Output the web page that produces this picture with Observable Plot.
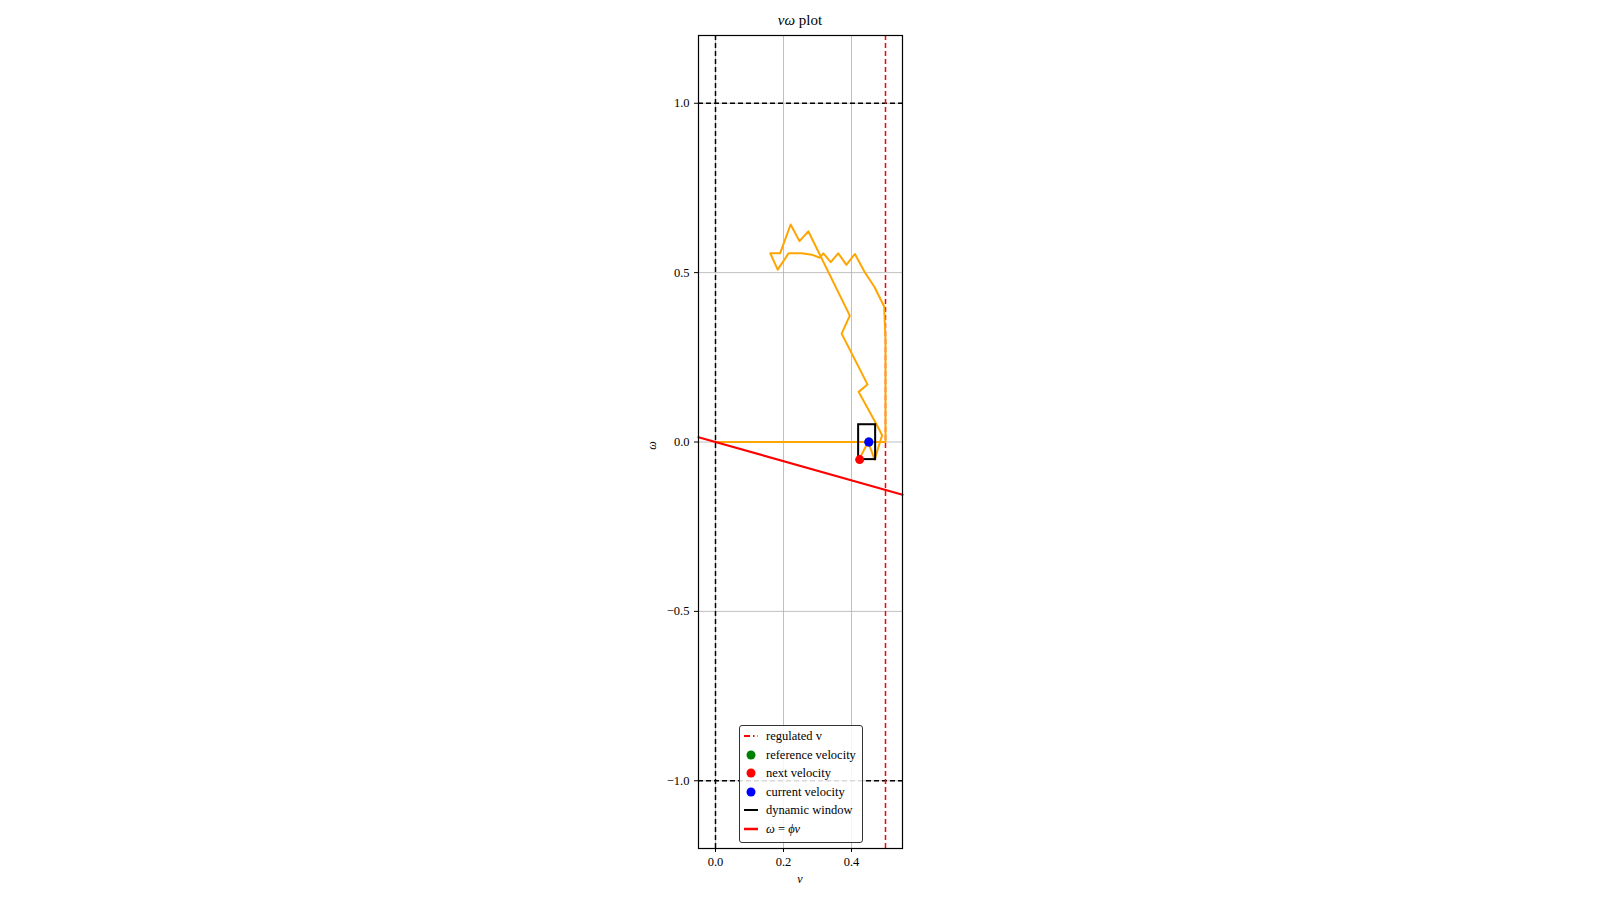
<!DOCTYPE html>
<html><head><meta charset="utf-8">
<script src="https://cdn.jsdelivr.net/npm/d3@7"></script>
<script src="https://cdn.jsdelivr.net/npm/@observablehq/plot@0.6"></script>
<style>
body{margin:0;background:#fff;font-family:"Liberation Serif",serif;}
#wrap{position:relative;width:1600px;height:900px;}
.t{position:absolute;font-family:"Liberation Serif",serif;color:#000;}
#legend{position:absolute;left:739px;top:725px;width:122px;height:116px;border:1px solid #333;border-radius:3px;background:rgba(255,255,255,0.85);font-size:12.5px;}
.row{position:absolute;left:0;height:16px;line-height:16px;}
.sym{position:absolute;left:4px;width:14px;height:16px;}
.lab{position:absolute;left:26px;white-space:nowrap;}
</style></head><body>
<div id="wrap"></div>
<script>
const trajV = [0,0.5,0.5,0.496,0.468,0.439,0.410,0.385,0.361,0.339,0.317,0.307,0.283,0.254,0.215,0.183,0.161,0.190,0.221,0.247,0.273,0.395,0.371,0.447,0.421,0.473,0.49,0.468,0.449,0.422];
const trajW = [0,0,0.30,0.40,0.457,0.501,0.555,0.523,0.557,0.531,0.557,0.544,0.553,0.557,0.557,0.509,0.557,0.557,0.642,0.593,0.622,0.373,0.320,0.170,0.148,0.053,0.02,-0.052,0,-0.052];
const windowBox = {v1:0.421, v2:0.471, w1:-0.052, w2:0.051};
const currentVel = [0.451, 0.0];
const nextVel = [0.424, -0.052];
const refVel = [0.451, 0.0];
const phi = -0.283;
const vMax = 0.5;
const xTicks = [0.0,0.2,0.4];
const yTicks = [-1.0,-0.5,0.0,0.5,1.0];

const traj = trajV.map((v,i)=>({v,w:trajW[i]}));
const fmt = d => d.toFixed(1).replace("-","\u2212");
const chart = Plot.plot({
  width:1600, height:900,
  marginLeft:698, marginRight:698, marginTop:35, marginBottom:52,
  style:{fontFamily:"Liberation Serif, serif", fontSize:"12.5px", background:"transparent"},
  x:{domain:[-0.05,0.55], ticks:xTicks, tickFormat:fmt, label:null, tickSize:4},
  y:{domain:[-1.2,1.2], ticks:yTicks, tickFormat:fmt, label:null, tickSize:4},
  marks:[
    Plot.gridX(xTicks,{stroke:"#b0b0b0",strokeOpacity:1,strokeWidth:0.8}),
    Plot.gridY(yTicks,{stroke:"#b0b0b0",strokeOpacity:1,strokeWidth:0.8}),
    Plot.ruleX([0],{stroke:"#000",strokeWidth:1.5,strokeDasharray:"5,3"}),
    Plot.ruleY([1,-1],{stroke:"#000",strokeWidth:1.5,strokeDasharray:"5,3"}),
    Plot.ruleX([vMax],{stroke:"red",strokeWidth:1.5,strokeDasharray:"5,3"}),
    Plot.line(traj,{x:"v",y:"w",stroke:"orange",strokeWidth:2}),
    Plot.rect([windowBox],{x1:"v1",x2:"v2",y1:"w1",y2:"w2",fill:"none",stroke:"#000",strokeWidth:2}),
    Plot.line([-0.05,0.55].map(v=>({v,w:phi*v})),{x:"v",y:"w",stroke:"red",strokeWidth:2.2}),
    Plot.dot([refVel],{x:d=>d[0],y:d=>d[1],r:4.5,fill:"green"}),
    Plot.dot([nextVel],{x:d=>d[0],y:d=>d[1],r:4.5,fill:"red"}),
    Plot.dot([currentVel],{x:d=>d[0],y:d=>d[1],r:4.5,fill:"blue"}),
    Plot.frame({stroke:"#000",strokeWidth:1.2}),
    Plot.axisX({ticks:xTicks,tickFormat:fmt,tickSize:4,label:null}),
    Plot.axisY({ticks:yTicks,tickFormat:fmt,tickSize:4,label:null})
  ]
});
const wrap = document.getElementById("wrap");
chart.style.position="absolute"; chart.style.left="0"; chart.style.top="0";
wrap.appendChild(chart);
function txt(html,left,top,size,extra){const d=document.createElement("div");d.className="t";d.innerHTML=html;d.style.left=left+"px";d.style.top=top+"px";d.style.fontSize=size+"px";if(extra)Object.assign(d.style,extra);wrap.appendChild(d);return d;}
txt("<i>vω</i> plot",800,12,15,{transform:"translateX(-50%)"});
txt("<i>v</i>",800,872,12,{transform:"translateX(-50%)"});
txt("<i>ω</i>",648,438,12,{transform:"rotate(-90deg)"});
const lg=document.createElement("div");lg.id="legend";wrap.appendChild(lg);
const items=[
 ["line","red","regulated v",true],["dot","green","reference velocity"],["dot","red","next velocity"],
 ["dot","blue","current velocity"],["line","black","dynamic window"],["line","red","<i>ω</i> = <i>ϕv</i>"]];
items.forEach((it,i)=>{
  const r=document.createElement("div");r.className="row";r.style.top=(2+i*18.6)+"px";
  let sym;
  if(it[0]==="dot") sym=`<svg class="sym" viewBox="0 0 14 16"><circle cx="7" cy="8" r="4.5" fill="${it[1]}"/></svg>`;
  else sym=`<svg class="sym" viewBox="0 0 14 16"><line x1="0" y1="8" x2="14" y2="8" stroke="${it[1]}" stroke-width="${i===5?2.5:2}" ${it[3]?'stroke-dasharray="6,3,1.5,3"':''}/></svg>`;
  r.innerHTML=sym+`<span class="lab">${it[2]}</span>`;lg.appendChild(r);
});
</script></body></html>
